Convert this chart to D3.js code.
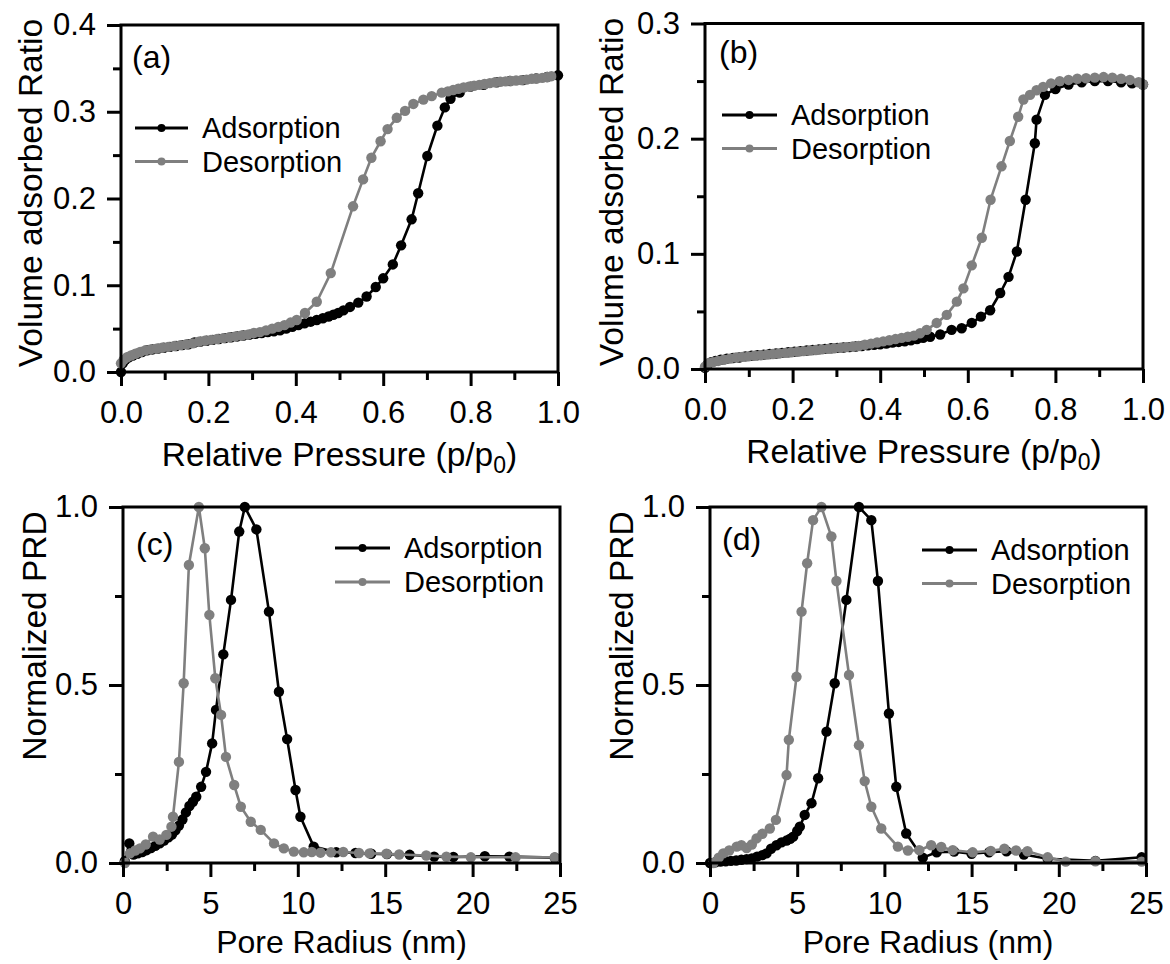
<!DOCTYPE html>
<html>
<head>
<meta charset="utf-8">
<script src="https://cdn.jsdelivr.net/npm/d3@7/dist/d3.min.js"></script>
<style>
  html, body { margin: 0; padding: 0; background: #fff; }
  svg { display: block; font-family: "Liberation Sans", Arial, Helvetica, sans-serif; }
</style>
</head>
<body>
<svg id="fig" width="1170" height="964"></svg>
<script>
// ---- N2 isotherms (relative pressure, volume adsorbed ratio) ----
const adsorptionA = [
  [0.000,0.000],[0.004,0.010],[0.010,0.014],[0.018,0.017],[0.027,0.019],[0.037,0.021],[0.048,0.023],[0.060,0.025],
  [0.072,0.026],[0.085,0.027],[0.098,0.028],[0.112,0.029],[0.126,0.030],[0.140,0.031],[0.154,0.032],[0.168,0.034],
  [0.182,0.035],[0.196,0.036],[0.210,0.037],[0.224,0.038],[0.238,0.039],[0.252,0.040],[0.266,0.041],[0.280,0.042],
  [0.294,0.043],[0.308,0.044],[0.322,0.045],[0.336,0.046],[0.350,0.047],[0.364,0.048],[0.378,0.050],[0.392,0.052],
  [0.406,0.054],[0.420,0.056],[0.434,0.058],[0.448,0.060],[0.462,0.062],[0.475,0.064],[0.486,0.066],[0.497,0.068],
  [0.509,0.071],[0.524,0.075],[0.543,0.080],[0.562,0.087],[0.583,0.098],[0.600,0.108],[0.622,0.124],[0.641,0.146],
  [0.665,0.176],[0.680,0.206],[0.701,0.249],[0.724,0.284],[0.741,0.305],[0.754,0.315],[0.775,0.322],[0.800,0.329],
  [0.830,0.331],[0.860,0.334],[0.890,0.3355],[0.920,0.3365],[0.950,0.3385],[0.975,0.340],[1.000,0.342]
];
const desorptionA = [
  [0.000,0.010],[0.006,0.014],[0.014,0.017],[0.023,0.019],[0.033,0.021],[0.044,0.023],[0.056,0.025],[0.068,0.026],
  [0.081,0.027],[0.094,0.028],[0.108,0.029],[0.122,0.030],[0.136,0.031],[0.150,0.032],[0.164,0.033],[0.178,0.035],
  [0.192,0.036],[0.206,0.037],[0.220,0.038],[0.234,0.039],[0.248,0.040],[0.262,0.041],[0.276,0.042],[0.290,0.043],
  [0.304,0.045],[0.318,0.046],[0.332,0.048],[0.346,0.050],[0.360,0.052],[0.374,0.054],[0.388,0.057],[0.402,0.060],
  [0.421,0.068],[0.448,0.081],[0.480,0.114],[0.531,0.191],[0.554,0.222],[0.573,0.247],[0.594,0.266],[0.610,0.280],
  [0.631,0.293],[0.650,0.301],[0.669,0.309],[0.692,0.314],[0.711,0.318],[0.734,0.322],[0.748,0.3235],[0.760,0.325],
  [0.772,0.3265],[0.784,0.328],[0.796,0.329],[0.808,0.330],[0.820,0.331],[0.832,0.332],[0.844,0.333],[0.856,0.334],
  [0.868,0.3345],[0.880,0.335],[0.892,0.3355],[0.904,0.336],[0.916,0.3365],[0.928,0.337],[0.940,0.338],[0.952,0.3385],
  [0.964,0.339],[0.976,0.340],[0.985,0.341]
];
const adsorptionB = [
  [0.000,0.001],[0.006,0.004],[0.014,0.006],[0.024,0.007],[0.036,0.008],[0.050,0.009],[0.064,0.0095],[0.078,0.010],
  [0.092,0.011],[0.106,0.0115],[0.120,0.012],[0.134,0.0125],[0.148,0.013],[0.162,0.0135],[0.176,0.014],[0.190,0.0145],
  [0.204,0.015],[0.218,0.0155],[0.232,0.016],[0.246,0.0165],[0.260,0.017],[0.274,0.0175],[0.288,0.018],[0.302,0.0183],
  [0.316,0.0187],[0.330,0.019],[0.344,0.0195],[0.358,0.020],[0.372,0.0205],[0.386,0.021],[0.400,0.0215],[0.414,0.022],
  [0.428,0.023],[0.442,0.0235],[0.456,0.024],[0.470,0.025],[0.484,0.026],[0.498,0.027],[0.514,0.028],[0.537,0.030],
  [0.563,0.034],[0.586,0.0354],[0.609,0.040],[0.630,0.0455],[0.651,0.051],[0.674,0.066],[0.693,0.080],[0.712,0.102],
  [0.732,0.147],[0.753,0.196],[0.757,0.2165],[0.776,0.238],[0.800,0.243],[0.830,0.247],[0.860,0.249],[0.890,0.250],
  [0.920,0.250],[0.950,0.249],[0.975,0.248],[1.000,0.247]
];
const desorptionB = [
  [0.000,0.002],[0.008,0.005],[0.018,0.006],[0.030,0.007],[0.043,0.008],[0.057,0.009],[0.071,0.010],[0.085,0.0105],
  [0.099,0.011],[0.113,0.0115],[0.127,0.012],[0.141,0.0125],[0.155,0.013],[0.169,0.0135],[0.183,0.014],[0.197,0.0145],
  [0.211,0.015],[0.225,0.0155],[0.239,0.016],[0.253,0.0165],[0.267,0.017],[0.281,0.0175],[0.295,0.018],[0.309,0.0185],
  [0.323,0.019],[0.337,0.0195],[0.351,0.020],[0.365,0.021],[0.379,0.022],[0.393,0.023],[0.407,0.024],[0.421,0.025],
  [0.435,0.026],[0.449,0.027],[0.463,0.028],[0.477,0.029],[0.491,0.031],[0.506,0.034],[0.529,0.040],[0.552,0.047],
  [0.575,0.0585],[0.590,0.070],[0.609,0.090],[0.632,0.114],[0.652,0.147],[0.677,0.176],[0.696,0.198],[0.715,0.219],
  [0.727,0.234],[0.742,0.238],[0.757,0.242],[0.772,0.245],[0.790,0.248],[0.810,0.250],[0.830,0.251],[0.850,0.252],
  [0.870,0.2525],[0.890,0.253],[0.910,0.2535],[0.930,0.253],[0.950,0.252],[0.970,0.251],[0.990,0.249],[1.000,0.247]
];

// ---- Pore radius distributions (radius in nm, normalized PRD) ----
const adsorptionC = [
  [0.10,0.005],[0.36,0.055],[0.60,0.024],[0.85,0.027],[1.10,0.031],[1.35,0.036],[1.60,0.042],[1.85,0.048],
  [2.10,0.055],[2.35,0.063],[2.60,0.072],[2.80,0.080],[3.00,0.092],[3.20,0.105],[3.40,0.122],[3.60,0.142],
  [3.80,0.160],[4.00,0.172],[4.19,0.186],[4.47,0.214],[4.75,0.256],[5.10,0.336],[5.32,0.430],[5.74,0.586],
  [6.18,0.739],[6.65,0.931],[6.97,1.000],[7.63,0.937],[8.35,0.706],[8.92,0.481],[9.39,0.348],[9.87,0.205],
  [10.15,0.130],[10.91,0.046],[12.2,0.030],[13.3,0.028],[14.2,0.026],[15.1,0.025],[16.4,0.023],[17.8,0.018],
  [18.9,0.017],[20.7,0.019],[22.1,0.018],[24.7,0.015]
];
const desorptionC = [
  [0.11,0.000],[0.40,0.027],[0.70,0.035],[0.97,0.041],[1.30,0.052],[1.72,0.074],[2.10,0.066],[2.48,0.079],
  [2.77,0.102],[2.86,0.130],[3.20,0.284],[3.47,0.505],[3.77,0.837],[4.34,1.000],[4.68,0.884],[4.94,0.697],
  [5.28,0.519],[5.61,0.416],[5.89,0.298],[6.36,0.219],[6.74,0.158],[7.31,0.116],[7.88,0.093],[8.64,0.055],
  [9.20,0.041],[9.77,0.032],[10.34,0.030],[10.80,0.031],[11.30,0.029],[11.90,0.030],[12.60,0.031],[13.50,0.028],
  [14.10,0.027],[15.07,0.026],[15.80,0.024],[17.35,0.021],[18.50,0.018],[19.90,0.016],[22.46,0.016],[24.70,0.016]
];
const adsorptionD = [
  [0.00,0.000],[0.30,0.002],[0.60,0.004],[0.90,0.005],[1.20,0.006],[1.50,0.007],[1.80,0.009],[2.10,0.011],
  [2.40,0.013],[2.70,0.018],[3.00,0.022],[3.24,0.027],[3.50,0.040],[3.81,0.050],[4.10,0.058],[4.39,0.063],
  [4.60,0.068],[4.77,0.074],[5.00,0.090],[5.15,0.102],[5.43,0.135],[5.82,0.168],[6.20,0.238],[6.68,0.369],
  [7.15,0.505],[7.82,0.739],[8.54,1.000],[9.25,0.963],[9.63,0.792],[10.26,0.420],[10.68,0.214],[11.25,0.083],
  [12.20,0.015],[13.00,0.030],[14.00,0.032],[15.00,0.026],[16.00,0.030],[17.00,0.033],[18.00,0.024],[19.36,0.012],
  [22.10,0.006],[24.75,0.016]
];
const desorptionD = [
  [0.19,0.000],[0.50,0.015],[0.76,0.027],[1.10,0.035],[1.53,0.046],[1.80,0.050],[2.10,0.042],[2.40,0.052],
  [2.67,0.069],[3.00,0.082],[3.43,0.097],[3.78,0.121],[4.39,0.247],[4.52,0.346],[4.96,0.523],[5.25,0.706],
  [5.57,0.842],[5.91,0.963],[6.39,1.000],[6.96,0.917],[7.25,0.792],[7.97,0.528],[8.54,0.331],[8.87,0.230],
  [9.25,0.158],[9.82,0.097],[10.77,0.046],[11.35,0.035],[12.00,0.036],[12.68,0.050],[13.26,0.045],[13.92,0.036],
  [15.06,0.030],[16.10,0.034],[16.88,0.040],[17.55,0.035],[18.20,0.033],[19.36,0.016],[20.40,0.004],[22.10,0.005],
  [24.75,0.004]
];

// ---- axis ticks and labels ----
const pressureMajor = [0, 0.2, 0.4, 0.6, 0.8, 1.0];
const pressureMinor = [0.1, 0.3, 0.5, 0.7, 0.9];
const volumeMajorA = [0, 0.1, 0.2, 0.3, 0.4];
const volumeMinorA = [0.05, 0.15, 0.25, 0.35];
const volumeMajorB = [0, 0.1, 0.2, 0.3];
const volumeMinorB = [0.05, 0.15, 0.25];
const radiusMajor = [0, 5, 10, 15, 20, 25];
const radiusMinor = [2.5, 7.5, 12.5, 17.5, 22.5];
const prdMajor = [0, 0.5, 1.0];
const prdMinor = [0.25, 0.75];
const seriesNames = ["Adsorption", "Desorption"];
const panelTags = ["(a)", "(b)", "(c)", "(d)"];

// ---- drawing ----
const BLACK = "#000000", GREY = "#7f7f7f";
const svg = d3.select("#fig");
const fmt1 = d3.format(".1f"), fmt0 = d3.format("d");

const panels = [
  { tag: panelTags[0], box: {l:121, t:25, r:558, b:372}, xd:[0,1], yd:[0,0.4],
    xMaj: pressureMajor, xMin: pressureMinor, yMaj: volumeMajorA, yMin: volumeMinorA,
    fx: fmt1, fy: fmt1, xTitle: "pressure", yTitle: "Volume adsorbed Ratio",
    xtY: 94, ytC: 193, ytX: 42,
    ads: adsorptionA, des: desorptionA, tagPos: [132, 68], leg: {x0:135, x1:188, y:128, dy:33.5} },
  { tag: panelTags[1], box: {l:705, t:23.5, r:1143, b:369}, xd:[0,1], yd:[0,0.3],
    xMaj: pressureMajor, xMin: pressureMinor, yMaj: volumeMajorB, yMin: volumeMinorB,
    fx: fmt1, fy: fmt1, xTitle: "pressure", yTitle: "Volume adsorbed Ratio",
    xtY: 94, ytC: 192, ytX: 623,
    ads: adsorptionB, des: desorptionB, tagPos: [719, 63], leg: {x0:722, x1:777, y:115, dy:33.5} },
  { tag: panelTags[2], box: {l:123, t:507, r:560, b:863}, xd:[0,25], yd:[0,1],
    xMaj: radiusMajor, xMin: radiusMinor, yMaj: prdMajor, yMin: prdMinor,
    fx: fmt0, fy: fmt1, xTitle: "Pore Radius (nm)", yTitle: "Normalized PRD",
    xtY: 90, ytC: 636, ytX: 46,
    ads: adsorptionC, des: desorptionC, tagPos: [136, 555], leg: {x0:335, x1:390, y:548, dy:34} },
  { tag: panelTags[3], box: {l:710, t:507, r:1146, b:863}, xd:[0,25], yd:[0,1],
    xMaj: radiusMajor, xMin: radiusMinor, yMaj: prdMajor, yMin: prdMinor,
    fx: fmt0, fy: fmt1, xTitle: "Pore Radius (nm)", yTitle: "Normalized PRD",
    xtY: 90, ytC: 636, ytX: 633,
    ads: adsorptionD, des: desorptionD, tagPos: [722, 550], leg: {x0:922, x1:977, y:550, dy:33.5} }
];

const AXW = 3, MAJ = 14, MINL = 8;

panels.forEach(p => {
  const {l, t, r, b} = p.box;
  const x = d3.scaleLinear().domain(p.xd).range([l, r]);
  const y = d3.scaleLinear().domain(p.yd).range([b, t]);
  const g = svg.append("g");

  // data series: adsorption underneath, desorption on top
  const line = d3.line().x(d => x(d[0])).y(d => y(d[1]));
  [[p.ads, BLACK], [p.des, GREY]].forEach(([data, col]) => {
    g.append("path").datum(data).attr("d", line)
      .attr("fill", "none").attr("stroke", col).attr("stroke-width", 2.6)
      .attr("stroke-linejoin", "round");
    g.append("g").selectAll("circle").data(data).join("circle")
      .attr("cx", d => x(d[0])).attr("cy", d => y(d[1])).attr("r", 5.2)
      .attr("fill", col);
  });

  // frame
  g.append("rect").attr("x", l).attr("y", t).attr("width", r - l).attr("height", b - t)
    .attr("fill", "none").attr("stroke", "#000").attr("stroke-width", AXW);

  // bottom axis
  const xa = d3.axisBottom(x).tickValues(p.xMaj).tickFormat(p.fx).tickSize(MAJ).tickPadding(15);
  const gx = g.append("g").attr("transform", `translate(0,${b})`).call(xa);
  gx.select(".domain").remove();
  gx.selectAll(".tick line").attr("stroke-width", AXW).attr("stroke", "#000");
  gx.selectAll(".tick text").attr("font-size", 31).attr("fill", "#000")
    .attr("font-family", "Liberation Sans, Arial, sans-serif");
  const gxm = g.append("g").attr("transform", `translate(0,${b})`)
    .call(d3.axisBottom(x).tickValues(p.xMin).tickFormat("").tickSize(MINL));
  gxm.select(".domain").remove();
  gxm.selectAll(".tick line").attr("stroke-width", AXW).attr("stroke", "#000");

  // left axis
  const ya = d3.axisLeft(y).tickValues(p.yMaj).tickFormat(p.fy).tickSize(MAJ).tickPadding(11);
  const gy = g.append("g").attr("transform", `translate(${l},0)`).call(ya);
  gy.select(".domain").remove();
  gy.selectAll(".tick line").attr("stroke-width", AXW).attr("stroke", "#000");
  gy.selectAll(".tick text").attr("font-size", 31).attr("fill", "#000")
    .attr("font-family", "Liberation Sans, Arial, sans-serif");
  const gym = g.append("g").attr("transform", `translate(${l},0)`)
    .call(d3.axisLeft(y).tickValues(p.yMin).tickFormat("").tickSize(MINL));
  gym.select(".domain").remove();
  gym.selectAll(".tick line").attr("stroke-width", AXW).attr("stroke", "#000");

  // axis titles
  const cx = (l + r) / 2;
  const xt = g.append("text").attr("x", cx).attr("y", b + p.xtY).attr("text-anchor", "middle")
    .attr("fill", "#000");
  if (p.xTitle === "pressure") {
    xt.attr("font-size", 33.5);
    xt.append("tspan").text("Relative Pressure (p/p");
    xt.append("tspan").text("0").attr("font-size", 23).attr("dy", 7);
    xt.append("tspan").text(")").attr("dy", -7);
  } else {
    xt.attr("font-size", 32).text(p.xTitle);
  }
  g.append("text").attr("transform", `translate(${p.ytX},${p.ytC}) rotate(-90)`)
    .attr("text-anchor", "middle").attr("font-size", 33.5).attr("fill", "#000").text(p.yTitle);

  // panel tag
  g.append("text").attr("x", p.tagPos[0]).attr("y", p.tagPos[1])
    .attr("font-size", 32).attr("fill", "#000").text(p.tag);

  // legend
  const lg = g.append("g");
  [BLACK, GREY].forEach((col, i) => {
    const ly = p.leg.y + i * p.leg.dy;
    lg.append("line").attr("x1", p.leg.x0).attr("x2", p.leg.x1).attr("y1", ly).attr("y2", ly)
      .attr("stroke", col).attr("stroke-width", 3);
    lg.append("circle").attr("cx", (p.leg.x0 + p.leg.x1) / 2).attr("cy", ly).attr("r", 4).attr("fill", col);
    lg.append("text").attr("x", p.leg.x1 + 14).attr("y", ly).attr("dy", "0.35em")
      .attr("font-size", 29).attr("fill", "#000").text(seriesNames[i]);
  });
});
</script>
</body>
</html>
